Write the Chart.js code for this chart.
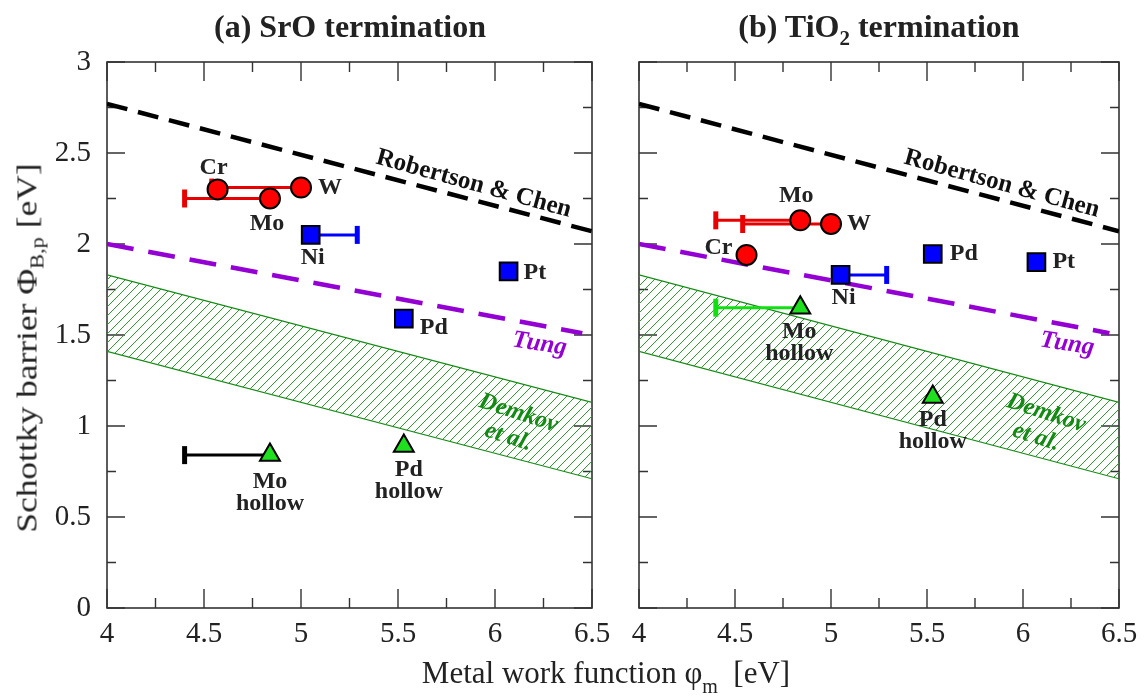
<!DOCTYPE html>
<html>
<head>
<meta charset="utf-8">
<script src="https://cdn.jsdelivr.net/npm/chart.js@4.4.1/dist/chart.umd.min.js"></script>
<style>
  body { margin: 0; background: #fff; width: 1147px; height: 697px; overflow: hidden; position: relative; font-family: "Liberation Serif", "DejaVu Serif", serif; color: #222; }
  canvas { position: absolute; top: 0; }
  #chartA { left: 0; }
  #chartB { left: 610px; }
  .title { position: absolute; top: 8px; font-weight: bold; font-size: 32px; transform: translateX(-50%); white-space: nowrap; }
  .title sub { font-size: 21px; vertical-align: -8px; }
  #ytitle { position: absolute; left: 29px; top: 348px; font-size: 30px; white-space: nowrap; transform: translate(-50%, -50%) rotate(-90deg) scaleX(1.18); }
  #ytitle sub { font-size: 19px; vertical-align: -7px; }
  #xtitle { position: absolute; left: 606px; top: 655px; font-size: 31px; white-space: nowrap; transform: translateX(-50%); }
  #xtitle sub { font-size: 20px; vertical-align: -10px; }
</style>
</head>
<body>
<canvas id="chartA" width="620" height="660"></canvas>
<canvas id="chartB" width="537" height="660"></canvas>
<div class="title" style="left:350px">(a) SrO termination</div>
<div class="title" style="left:879px">(b) TiO<sub>2</sub> termination</div>
<div id="ytitle">Schottky barrier &Phi;<sub>B,p</sub> [eV]</div>
<div id="xtitle">Metal work function &phi;<sub>m</sub> &nbsp;[eV]</div>
<script>
(function() {
// axis ranges
const xMin = 4, xMax = 6.5, xStep = 0.5;
const yMin = 0, yMax = 3, yStep = 0.5;

// model lines: endpoints (work function, barrier)
const robertsonX = [4, 6.5];
const robertsonY = [2.77, 2.07];
const tungX = [4, 6.45];
const tungY = [2.0, 1.51];
const demkovX = [4, 6.5];
const demkovUpper = [1.83, 1.13];
const demkovLower = [1.41, 0.71];

// (a) SrO termination
const srMetals  = ['Cr', 'W', 'Mo', 'Ni', 'Pt', 'Pd', 'Mo hollow', 'Pd hollow'];
const srWork    = [4.57, 5.00, 4.84, 5.05, 6.07, 5.53, 4.84, 5.53];
const srBarrier = [2.30, 2.31, 2.25, 2.05, 1.85, 1.59, 0.84, 0.89];
const srErrEnd  = [null, 4.54, 4.40, 5.29, null, null, 4.40, null];

// (b) TiO2 termination
const tiMetals  = ['Cr', 'W', 'Mo', 'Ni', 'Pt', 'Pd', 'Mo hollow', 'Pd hollow'];
const tiWork    = [4.56, 5.00, 4.84, 5.05, 6.07, 5.53, 4.84, 5.53];
const tiBarrier = [1.94, 2.11, 2.13, 1.83, 1.90, 1.945, 1.65, 1.16];
const tiErrEnd  = [null, 4.54, 4.40, 5.29, null, null, 4.40, null];

const serif = '"Liberation Serif", "DejaVu Serif", serif';
const green = '#138a13';

// marker look per metal
const markerStyle = {
    'Cr': {shape: 'circle', fill: '#ff0000', r: 10, err: '#e80000'},
    'W':  {shape: 'circle', fill: '#ff0000', r: 10, err: '#e80000'},
    'Mo': {shape: 'circle', fill: '#ff0000', r: 10, err: '#e80000'},
    'Ni': {shape: 'rect', fill: '#0000ff', r: 12.5, err: '#0000ff'},
    'Pt': {shape: 'rect', fill: '#0000ff', r: 12.5, err: '#0000ff'},
    'Pd': {shape: 'rect', fill: '#0000ff', r: 12.5, err: '#0000ff'},
    'Mo hollow': {shape: 'triangle', fill: '#1ee01e', r: 11.5, err: '#000000'},
    'Pd hollow': {shape: 'triangle', fill: '#1ee01e', r: 11.5, err: '#000000'}
};

// label offsets from the marker, in pixels
const srLabelOffsets = {
    'Cr': [-4, -22, 'center'], 'W': [17, 0, 'left'], 'Mo': [-3, 25, 'center'],
    'Ni': [2, 23, 'center'], 'Pt': [15, 1, 'left'], 'Pd': [16, 9, 'left'],
    'Mo hollow': [0, 27, 'center'], 'Pd hollow': [5, 24, 'center']
};
const tiLabelOffsets = {
    'Cr': [-28, -7, 'center'], 'W': [16, 0, 'left'], 'Mo': [-4, -25, 'center'],
    'Ni': [3, 23, 'center'], 'Pt': [16, 0, 'left'], 'Pd': [17, 0, 'left'],
    'Mo hollow': [-1, 24, 'center'], 'Pd hollow': [0, 23, 'center']
};

// model line captions, anchored in data coordinates
const lineCaptions = [
    {text: ['Robertson & Chen'], x: 5.89, y: 2.33, rot: 15.5, color: '#111', style: 'bold', size: 25},
    {text: ['Tung'], x: 6.23, y: 1.45, rot: 9, color: '#9400d3', style: 'italic bold', size: 25},
    {text: ['Demkov', 'et al.'], x: 6.12, y: 1.07, rot: 18, color: green, style: 'italic bold', size: 24}
];

function makeHatch() {
    const c = document.createElement('canvas');
    c.width = 9; c.height = 9;
    const g = c.getContext('2d');
    g.strokeStyle = '#2f9a2f';
    g.lineWidth = 1;
    g.beginPath();
    g.moveTo(0, 9); g.lineTo(9, 0);
    g.moveTo(-1, 1); g.lineTo(1, -1);
    g.moveTo(8, 10); g.lineTo(10, 8);
    g.stroke();
    return g.createPattern(c, 'repeat');
}

function pairs(xs, ys) {
    return xs.map((x, i) => ({x: x, y: ys[i]}));
}

function buildDatasets(metals, work, barrier, errEnd, errOverride) {
    const ds = [];
    ds.push({data: pairs(robertsonX, robertsonY), showLine: true, borderColor: '#000', borderWidth: 4.5,
        borderDash: [21, 11], pointRadius: 0, order: 3});
    ds.push({data: pairs(tungX, tungY), showLine: true, borderColor: '#9400d3', borderWidth: 4.5,
        borderDash: [27, 15], pointRadius: 0, order: 3});
    const hatch = makeHatch();
    ds.push({data: pairs(demkovX, demkovUpper), showLine: true, borderColor: green, borderWidth: 1.2,
        pointRadius: 0, fill: '+1', backgroundColor: hatch, order: 4});
    ds.push({data: pairs(demkovX, demkovLower), showLine: true, borderColor: green, borderWidth: 1.2,
        pointRadius: 0, fill: false, order: 4});

    metals.forEach((m, i) => {
        if (errEnd[i] === null) return;
        const col = (errOverride && errOverride[m]) || markerStyle[m].err;
        ds.push({
            data: [{x: errEnd[i], y: barrier[i]}, {x: work[i], y: barrier[i]}],
            showLine: true, borderColor: col, borderWidth: 3,
            pointStyle: 'line', pointRotation: 90, pointRadius: [9, 0],
            pointBorderColor: col, pointBorderWidth: 5, order: 2
        });
    });
    metals.forEach((m, i) => {
        const s = markerStyle[m];
        ds.push({
            data: [{x: work[i], y: barrier[i]}],
            pointStyle: s.shape, pointRadius: s.r, backgroundColor: s.fill,
            borderColor: '#000', borderWidth: 2, order: 1
        });
    });
    return ds;
}

function panelPlugin(metals, offsets) {
    return {
        id: 'panelDecor',
        beforeDatasetsDraw(chart) {
            const {ctx, chartArea: a, scales: {x, y}} = chart;
            ctx.save();
            ctx.strokeStyle = '#333';
            ctx.lineWidth = 1.6;
            ctx.strokeRect(a.left, a.top, a.right - a.left, a.bottom - a.top);
            ctx.lineWidth = 1.4;
            ctx.beginPath();
            x.ticks.forEach(t => {
                const px = x.getPixelForValue(t.value);
                ctx.moveTo(px, a.bottom); ctx.lineTo(px, a.bottom - 19);
                ctx.moveTo(px, a.top); ctx.lineTo(px, a.top + 19);
                const mv = t.value + xStep / 2;
                if (mv < xMax) {
                    const pm = x.getPixelForValue(mv);
                    ctx.moveTo(pm, a.bottom); ctx.lineTo(pm, a.bottom - 10);
                    ctx.moveTo(pm, a.top); ctx.lineTo(pm, a.top + 10);
                }
            });
            y.ticks.forEach(t => {
                const py = y.getPixelForValue(t.value);
                ctx.moveTo(a.left, py); ctx.lineTo(a.left + 18, py);
                ctx.moveTo(a.right, py); ctx.lineTo(a.right - 18, py);
                const mv = t.value + yStep / 2;
                if (mv < yMax) {
                    const pm = y.getPixelForValue(mv);
                    ctx.moveTo(a.left, pm); ctx.lineTo(a.left + 9, pm);
                    ctx.moveTo(a.right, pm); ctx.lineTo(a.right - 9, pm);
                }
            });
            ctx.stroke();
            ctx.restore();
        },
        afterDatasetsDraw(chart) {
            const {ctx, scales: {x, y}} = chart;
            const data = chart.data.datasets;
            ctx.save();
            ctx.textBaseline = 'middle';
            // point labels
            ctx.fillStyle = '#222';
            ctx.font = 'bold 24px ' + serif;
            const markers = data.filter(d => d.order === 1);
            metals.forEach((m, i) => {
                const p = markers[i].data[0];
                const o = offsets[m];
                const px = x.getPixelForValue(p.x) + o[0];
                const py = y.getPixelForValue(p.y) + o[1];
                ctx.textAlign = o[2];
                m.split(' ').forEach((line, k) => ctx.fillText(line, px, py + k * 22));
            });
            // model captions
            lineCaptions.forEach(c => {
                ctx.save();
                ctx.translate(x.getPixelForValue(c.x), y.getPixelForValue(c.y));
                ctx.rotate(c.rot * Math.PI / 180);
                ctx.fillStyle = c.color;
                ctx.textAlign = 'center';
                ctx.font = c.style + ' ' + c.size + 'px ' + serif;
                c.text.forEach((line, k) => ctx.fillText(line, k * -2, k * 26));
                ctx.restore();
            });
            ctx.restore();
        }
    };
}

function fmt(v) {
    return String(Number(v.toFixed(2)));
}

function makeChart(id, metals, work, barrier, errEnd, offsets, errOverride, showYLabels, yWidth) {
    const canvas = document.getElementById(id);
    return new Chart(canvas.getContext('2d'), {
        type: 'scatter',
        data: {datasets: buildDatasets(metals, work, barrier, errEnd, errOverride)},
        options: {
            responsive: false,
            animation: false,
            events: [],
            layout: {padding: {top: 62, right: 28, left: 0, bottom: 0}},
            plugins: {legend: {display: false}, tooltip: {enabled: false}},
            scales: {
                x: {
                    type: 'linear', min: xMin, max: xMax,
                    grid: {display: false}, border: {display: false},
                    ticks: {stepSize: xStep, padding: 1, color: '#222', maxRotation: 0,
                        font: {family: serif, size: 29}, callback: fmt},
                    afterFit: s => { s.height = 52; s.paddingLeft = 0; s.paddingRight = 0; }
                },
                y: {
                    type: 'linear', min: yMin, max: yMax,
                    grid: {display: false}, border: {display: false},
                    ticks: {display: showYLabels, stepSize: yStep, padding: 8, color: '#222',
                        font: {family: serif, size: 29}, callback: fmt},
                    afterFit: s => { s.width = yWidth; s.paddingTop = 0; s.paddingBottom = 0; }
                }
            }
        },
        plugins: [panelPlugin(metals, offsets)]
    });
}

makeChart('chartA', srMetals, srWork, srBarrier, srErrEnd, srLabelOffsets, null, true, 107);
makeChart('chartB', tiMetals, tiWork, tiBarrier, tiErrEnd, tiLabelOffsets,
    {'Mo hollow': '#10e010'}, false, 29);
})();
</script>
</body>
</html>
